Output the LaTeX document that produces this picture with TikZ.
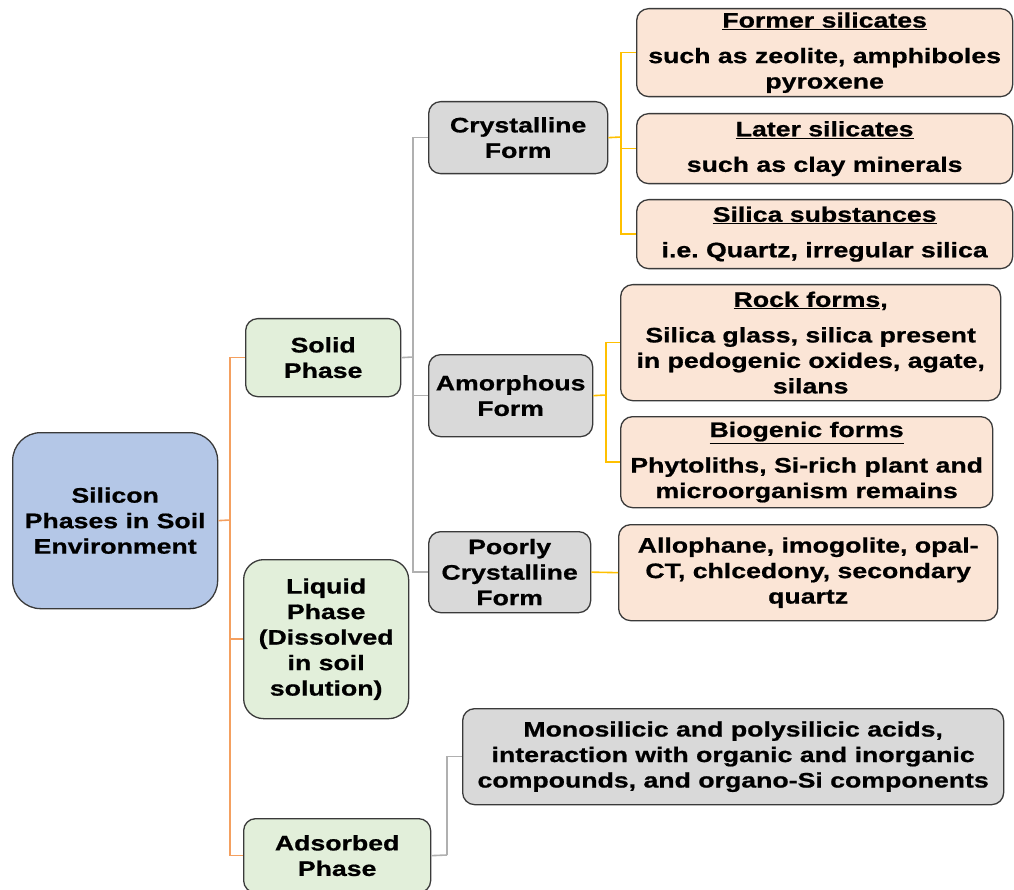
\documentclass[tikz,border=0pt]{standalone}
\usepackage{fontspec}
\setmainfont{Liberation Sans}[FakeStretch=1.27, BoldFeatures={FakeBold=0.8}]
\frenchspacing
\definecolor{rootfill}{HTML}{B4C7E7}
\definecolor{greenfill}{HTML}{E2EFDA}
\definecolor{grayfill}{HTML}{D9D9D9}
\definecolor{peachfill}{HTML}{FBE5D6}
\definecolor{bordercol}{HTML}{3A3A3A}
\definecolor{orangeline}{HTML}{F4A060}
\definecolor{yellowline}{HTML}{FFC000}
\definecolor{grayline}{HTML}{B0B0B0}
\tikzset{
  box/.style={draw=bordercol, line width=1.3pt, rounded corners=12pt, anchor=north west,
    align=center, inner sep=2pt, font=\fontsize{21}{25.5}\selectfont\bfseries},
  rootbox/.style={box, fill=rootfill, rounded corners=28pt},
  greenbox/.style={box, fill=greenfill},
  graybox/.style={box, fill=grayfill},
  peachbox/.style={box, fill=peachfill},
  oline/.style={draw=orangeline, line width=1.6pt},
  yline/.style={draw=yellowline, line width=1.6pt},
  gline/.style={draw=grayline, line width=1.6pt},
}
\begin{document}
\begin{tikzpicture}[x=1pt,y=-1pt]
\useasboundingbox (0,0) rectangle (1014,890);
% level 0
\node[rootbox, minimum width=205pt, minimum height=176pt] (root) at (12,432) {Silicon\\Phases in Soil\\Environment};
% level 1
\node[greenbox, minimum width=155pt, minimum height=78pt] (solid) at (245,318) {Solid\\Phase};
\node[greenbox, rounded corners=20pt, minimum width=165pt, minimum height=159pt] (liquid) at (243,559) {Liquid\\Phase\\(Dissolved\\in soil\\solution)};
\node[greenbox, minimum width=187pt, minimum height=74pt] (adsorbed) at (243,818) {Adsorbed\\Phase};
% level 2
\node[graybox, minimum width=179pt, minimum height=72pt] (cryst) at (428,101) {Crystalline\\Form};
\node[graybox, minimum width=164pt, minimum height=82pt] (amor) at (428,354) {Amorphous\\Form};
\node[graybox, minimum width=162pt, minimum height=81pt] (poor) at (428,531) {Poorly\\Crystalline\\Form};
\node[graybox, minimum width=541pt, minimum height=96pt] (mono) at (462,708) {Monosilicic and polysilicic acids,\\interaction with organic and inorganic\\compounds, and organo-Si components};
% level 3
\node[peachbox, minimum width=376pt, minimum height=88pt] (former) at (636,8) {\underline{Former silicates}\\[10pt]such as zeolite, amphiboles\\pyroxene};
\node[peachbox, minimum width=376pt, minimum height=70pt] (later) at (636,113) {\underline{Later silicates}\\[10pt]such as clay minerals};
\node[peachbox, minimum width=376pt, minimum height=69pt] (silica) at (636,199) {\underline{Silica substances}\\[10pt]i.e. Quartz, irregular silica};
\node[peachbox, minimum width=380pt, minimum height=116pt] (rock) at (620,284) {\underline{Rock forms},\\[10pt]Silica glass, silica present\\in pedogenic oxides, agate,\\silans};
\node[peachbox, minimum width=372pt, minimum height=91pt] (bio) at (620,416) {\underline{Biogenic forms}\\[10pt]Phytoliths, Si-rich plant and\\microorganism remains};
\node[peachbox, minimum width=379pt, minimum height=96pt] (allo) at (618,524) {Allophane, imogolite, opal-\\CT, chlcedony, secondary\\quartz};
% connectors
\coordinate (oT) at (230,520);
\draw[oline] (root.east) -- (oT);
\draw[oline] (oT) |- (solid.west);
\draw[oline] (oT) |- (liquid.west);
\draw[oline] (oT) |- (adsorbed.west);
\coordinate (gT) at (413,357);
\draw[gline] (solid.east) -- (gT);
\draw[gline] (gT) |- (cryst.west);
\draw[gline] (gT) |- (amor.west);
\draw[gline] (gT) |- (poor.west);
\coordinate (yT1) at (621,137);
\draw[yline] (cryst.east) -- (yT1);
\draw[yline] (yT1) |- (former.west);
\draw[yline] (yT1) |- (later.west);
\draw[yline] (yT1) |- (silica.west);
\coordinate (yT2) at (606,395);
\draw[yline] (amor.east) -- (yT2);
\draw[yline] (yT2) |- (rock.west);
\draw[yline] (yT2) |- (bio.west);
\draw[yline] (poor.east) -- (allo.west);
\coordinate (gT2) at (447,855);
\draw[gline] (adsorbed.east) -- (gT2);
\draw[gline] (gT2) |- (mono.west);
\end{tikzpicture}
\end{document}
